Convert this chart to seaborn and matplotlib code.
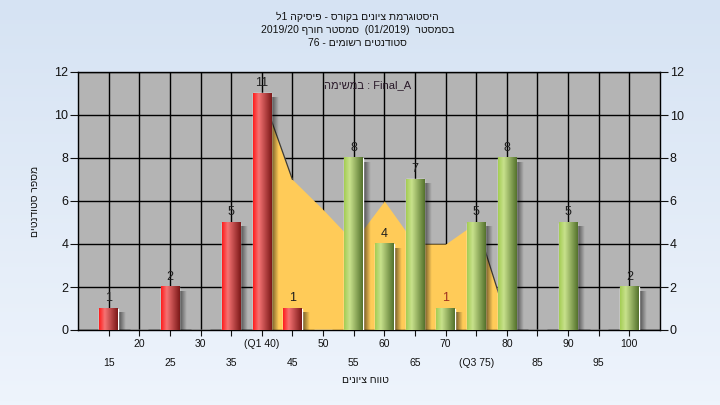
import re
import numpy as np
import pandas as pd
import matplotlib
matplotlib.use("Agg")
import matplotlib.pyplot as plt
import seaborn as sns

grades = [15, 20, 25, 30, 35, 40, 45, 50, 55, 60, 65, 70, 75, 80, 85, 90, 95, 100]
counts = [1, 0, 2, 0, 5, 11, 1, 0, 8, 4, 7, 1, 5, 8, 0, 5, 0, 2]
tick_labels = ["15", "20", "25", "30", "35", "(Q1 40)", "45", "50", "55", "60",
               "65", "70", "(Q3 75)", "80", "85", "90", "95", "100"]

# yellow area behind the bars
curve_grades = [40, 45, 50, 55, 60, 65, 70, 75, 80]
curve_values = [11, 7, 5.6, 4.1, 6, 4, 4, 5, 0.5]

title_lines = [
    "היסטוגרמת ציונים בקורס - פיסיקה 1ל",
    "בסמסטר  (01/2019)  סמסטר חורף 2019/20",
    "סטודנטים רשומים - 76",
]
x_title = "טווח ציונים"
y_title = "מספר סטודנטים"
note = "Final_A : במשימה"


def rtl(s):
    # matplotlib has no bidi support, so put hebrew text in visual order by hand
    v = re.sub(r"[A-Za-z0-9_/.]+", lambda m: m.group(0)[::-1], s[::-1])
    return v.translate(str.maketrans("()", ")("))


def gradient(stops, n=40):
    t = np.linspace(0, 1, n)
    pos = [s[0] for s in stops]
    rgb = np.array([[np.interp(tt, pos, [s[1][c] for s in stops]) for c in range(3)] for tt in t])
    return rgb[np.newaxis, :, :] / 255.0


red_grad = gradient([(0, (255, 30, 30)), (0.3, (245, 115, 115)), (1, (125, 25, 25))])
green_grad = gradient([(0, (165, 205, 85)), (0.3, (200, 225, 140)), (1, (85, 115, 45))])

sns.set_style("white")
plt.rcParams["font.family"] = ["Liberation Sans", "DejaVu Sans"]

fig = plt.figure(figsize=(7.2, 4.05), dpi=100)

# light blue background
bg = fig.add_axes([0, 0, 1, 1])
bg.imshow(np.linspace([214, 227, 243], [238, 244, 252], 100)[:, np.newaxis, :] / 255.0,
          aspect="auto", extent=[0, 1, 0, 1])
bg.set_axis_off()

ax = fig.add_axes([78 / 720, 1 - 330 / 405, 582 / 720, 258 / 405])
ax.set_facecolor("#b4b4b4")

df = pd.DataFrame({
    "grade": [str(g) for g in grades],
    "count": counts,
    "group": ["fail" if g < 50 else "pass" for g in grades],
})
sns.barplot(data=df, x="grade", y="count", hue="group", order=df["grade"],
            palette={"fail": "#e03030", "pass": "#a0c860"}, dodge=False,
            width=0.6, legend=False, ax=ax, zorder=3)

pos = [grades.index(g) for g in curve_grades]
ax.fill_between(pos, curve_values, 0, color="#ffcb58", lw=0, zorder=1)
ax.plot(pos[:2], curve_values[:2], color="#3a3a3a", lw=0.9, zorder=1.2)
ax.plot(pos[-2:], curve_values[-2:], color="#3a3a3a", lw=0.9, zorder=1.2)

shadow = np.zeros((1, 20, 4))
shadow[..., 3] = np.linspace(0.6, 0.0, 20)

for p in ax.patches:
    h = p.get_height()
    if not h or np.isnan(h):
        continue
    x0 = p.get_x()
    w = p.get_width()
    idx = int(round(x0 + w / 2))
    g = grades[idx]
    grad = red_grad if g < 50 else green_grad
    ax.imshow(grad, extent=[x0, x0 + w, 0, h], aspect="auto", zorder=3.1)
    ax.imshow(shadow, extent=[x0 + w, x0 + w + 0.25, 0, h - 0.2], aspect="auto", zorder=2)
    ax.text(idx, h + 0.2, str(int(h)), ha="center", va="bottom", fontsize=9,
            color="#a03020" if g == 70 else "#1e1e1e", zorder=5)

ax.set_xlim(-1, 18)
ax.set_ylim(0, 12)
ax.set_xlabel("")
ax.set_ylabel("")

ax.set_xticks(range(0, 18, 2))
ax.set_xticklabels(tick_labels[0::2])
ax.set_xticks(range(1, 18, 2), minor=True)
ax.set_xticklabels(tick_labels[1::2], minor=True)
ax.tick_params(axis="x", which="both", length=4, width=0.8, direction="out",
               labelsize=7.5, colors="#111111", bottom=True)
ax.tick_params(axis="x", which="major", pad=16)
ax.tick_params(axis="x", which="minor", pad=2.5)

ax.set_yticks(range(0, 13, 2))
ax.tick_params(axis="y", length=6, width=0.8, direction="out", labelsize=9,
               colors="#111111", left=True, pad=1)

ax.grid(True, which="both", color="black", lw=1.0)
ax.set_axisbelow(True)
for s in ax.spines.values():
    s.set_color("black")
    s.set_linewidth(1.0)
    s.set_visible(True)

ax2 = ax.twinx()
ax2.set_ylim(0, 12)
ax2.set_yticks(range(0, 13, 2))
ax2.tick_params(axis="y", length=6, width=0.8, direction="out", labelsize=9,
                colors="#111111", right=True, pad=1)
ax2.grid(False)
for s in ax2.spines.values():
    s.set_visible(False)

ax.text(0.498, 0.95, rtl(note), transform=ax.transAxes, ha="center", va="center",
        fontsize=8, color="#2a1a2a", zorder=6)

for i, line in enumerate(title_lines):
    fig.text(0.497, 1 - (17 + 13 * i) / 405, rtl(line), ha="center", va="center",
             fontsize=7.5, color="#111111")
fig.text(365 / 720, 1 - 380 / 405, rtl(x_title), ha="center", va="center",
         fontsize=7.5, color="#111111")
fig.text(35 / 720, 1 - 201 / 405, rtl(y_title), ha="center", va="center",
         rotation=90, fontsize=7.5, color="#111111")

fig.savefig("out.png", dpi=100)
